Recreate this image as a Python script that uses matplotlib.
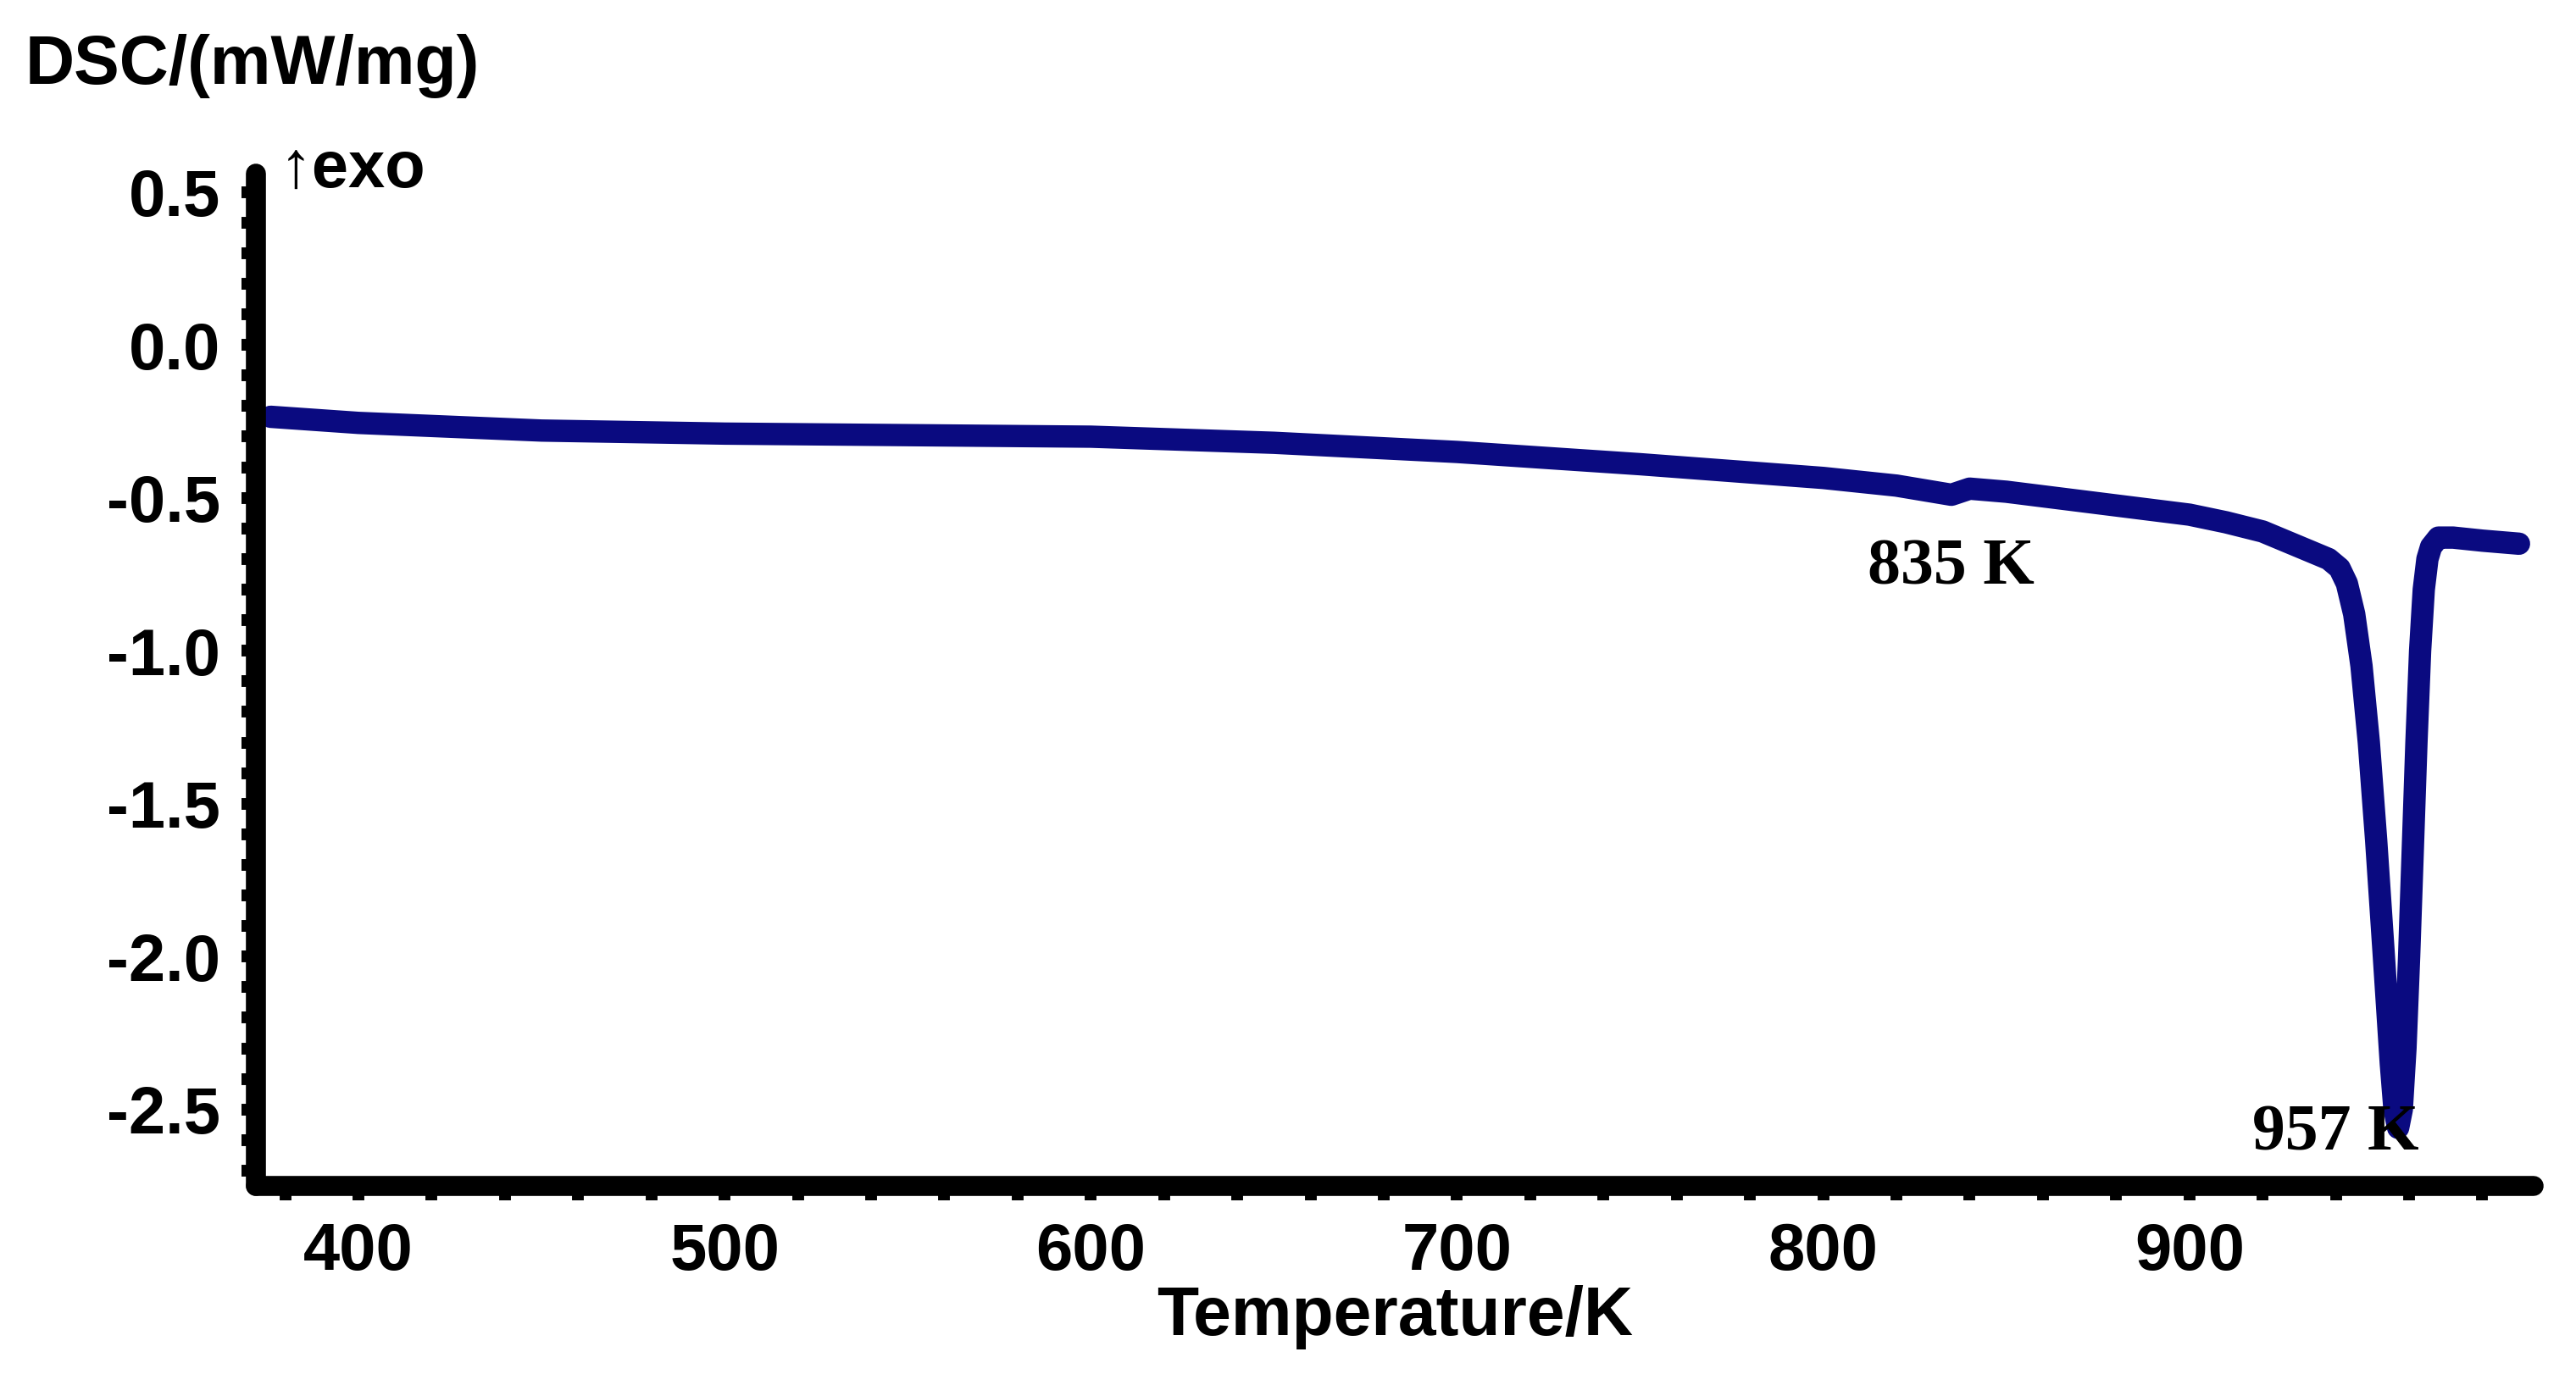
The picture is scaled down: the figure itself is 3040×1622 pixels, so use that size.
import matplotlib
matplotlib.use("Agg")
import matplotlib.pyplot as plt
from matplotlib.ticker import MultipleLocator

temp = [376, 400, 450, 500, 550, 600, 650, 700, 750, 800, 820, 835, 840, 850, 870, 900, 910, 920, 930, 938, 941, 943, 945, 947, 949, 951, 953, 955, 956, 957, 958, 959, 960, 961, 962, 963, 964, 965, 966, 968, 972, 980, 990]
dsc = [-0.235, -0.255, -0.28, -0.29, -0.295, -0.3, -0.32, -0.35, -0.39, -0.435, -0.46, -0.49, -0.47, -0.48, -0.51, -0.555, -0.58, -0.61, -0.66, -0.70, -0.73, -0.78, -0.88, -1.05, -1.3, -1.62, -1.98, -2.35, -2.5, -2.56, -2.5, -2.3, -2.0, -1.65, -1.3, -1.0, -0.8, -0.7, -0.66, -0.63, -0.63, -0.64, -0.65]
xticks = [400, 500, 600, 700, 800, 900]
yticks = [0.5, 0.0, -0.5, -1.0, -1.5, -2.0, -2.5]
annotations = [("835 K", 835, -0.73), ("957 K", 940, -2.58)]

fig = plt.figure(figsize=(30.4, 16.22), dpi=100)
ax = fig.add_axes([302/3040, 1 - 1400/1622, (2990-302)/3040, (1400-205)/1622])
ax.plot(temp, dsc, color="#0a0a80", lw=19, solid_capstyle="round", solid_joinstyle="round")
ax.set_xlim(372, 994)
ax.set_ylim(-2.75, 0.56)
for s in ["top", "right"]:
    ax.spines[s].set_visible(False)
for s in ["left", "bottom"]:
    ax.spines[s].set_linewidth(17)
    ax.spines[s].set_capstyle("round")
ax.set_xticks(xticks)
ax.set_yticks(yticks)
ax.set_yticklabels([f"{v:.1f}" for v in yticks])
ax.xaxis.set_minor_locator(MultipleLocator(20))
ax.yaxis.set_minor_locator(MultipleLocator(0.1))
ax.tick_params(which="both", direction="out", width=10, length=12, pad=18)
font = dict(family="Liberation Sans", weight="bold", size=58)
for lab in ax.get_xticklabels() + ax.get_yticklabels():
    lab.set_fontfamily("Liberation Sans"); lab.set_fontweight("bold"); lab.set_fontsize(56)
ax.set_xlabel("Temperature/K", labelpad=2, **font)
fig.text(30/3040, 1 - 78/1622, "DSC/(mW/mg)", ha="left", va="center", **font)
fig.text(330/3040, 1 - 200/1622, "↑exo", ha="left", va="center", family=["Liberation Sans", "DejaVu Sans"], weight="bold", size=56)
for txt, x, y in annotations:
    ax.text(x, y, txt, ha="center", va="center", family="Liberation Serif", weight="bold", size=56)
fig.savefig("out.png", dpi=100)
